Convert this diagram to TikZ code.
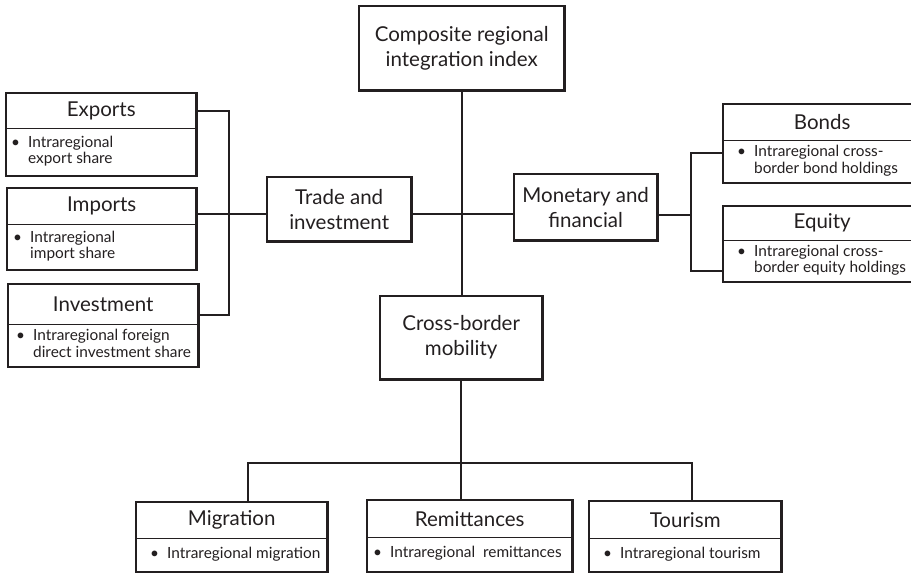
\documentclass[tikz,border=0pt]{standalone}
\usepackage{fontspec}
\setmainfont{Lato}
\definecolor{ink}{HTML}{231F20}
\tikzset{
  frame/.style={line width=2.2pt, draw=ink},
  conn/.style={line width=2pt, draw=ink, line cap=rect},
  divider/.style={line width=1pt, draw=ink},
  part/.style={anchor=north west, inner sep=0pt, text=ink},
  mainbox/.style={part, align=center, font=\fontsize{20.5}{25}\selectfont},
  headbox/.style={part, align=center, font=\fontsize{20.5}{24}\selectfont},
  bodytext/.style={anchor=west, inner sep=0pt, text=ink, align=left, font=\fontsize{15.4}{16.5}\selectfont},
}
\newcommand{\bul}[1]{\begin{tabular}{@{}l@{\hspace{8pt}}l@{}}•&#1\end{tabular}}
\begin{document}
\begin{tikzpicture}[x=1pt,y=-1pt]
\useasboundingbox (0,0) rectangle (911,573);
% main boxes
\node[mainbox, minimum width=205pt, minimum height=84pt] (top) at (359,6) {Composite regional\\integration index};
\node[mainbox, minimum width=144pt, minimum height=64pt] (trade) at (267,177) {Trade and\\investment};
\node[mainbox, minimum width=143pt, minimum height=66pt] (mon) at (514,174) {Monetary and\\financial};
\node[mainbox, minimum width=162pt, minimum height=83pt] (cb) at (380,296) {Cross-border\\mobility};
\foreach \n in {top,trade,mon,cb} \draw[frame] (\n.north west) rectangle (\n.south east);

% two-part boxes: name, x, y, width, head height, body height
\newcommand{\twobox}[6]{%
  \node[headbox, minimum width=#4pt, minimum height=#5pt] (#1T) at (#2,#3) {};
  \node[part, minimum width=#4pt, minimum height=#6pt] (#1B) at (#1T.south west) {};
  \draw[frame] (#1T.north west) rectangle (#1B.south east);
  \draw[divider] (#1T.south west) -- (#1T.south east);
}
\twobox{exp}{6}{93}{190}{35}{47}
\twobox{imp}{7}{188}{189}{36}{45}
\twobox{inv}{8}{284}{190}{40}{42}
\twobox{bond}{723}{104}{192}{36}{42}
\twobox{equ}{723}{206}{192}{34}{41}
\twobox{mig}{136}{502}{191}{36}{33}
\twobox{rem}{367}{500}{205}{37}{34}
\twobox{tou}{589}{501}{192}{37}{33}

% heads
\node[headbox, anchor=center] (expH) at (expT) {Exports};
\node[headbox, anchor=center] (impH) at (impT) {Imports};
\node[headbox, anchor=center] (invH) at (invT) {Investment};
\node[headbox, anchor=center] (bondH) at ([xshift=3pt]bondT) {Bonds};
\node[headbox, anchor=center] (equH) at ([xshift=3pt]equT) {Equity};
\node[headbox, anchor=center] (migH) at (migT) {Migration};
\node[headbox, anchor=center] (remH) at (remT) {Remittances};
\node[headbox, anchor=center] (touH) at (touT) {Tourism};

% bodies
\node[bodytext] (expX) at ([xshift=5pt]expB.west) {\bul{Intraregional\\&export share}};
\node[bodytext] (impX) at ([xshift=6pt]impB.west) {\bul{Intraregional\\&import share}};
\node[bodytext] (invX) at ([xshift=8pt]invB.west) {\bul{Intraregional foreign\\&direct investment share}};
\node[bodytext] (bondX) at ([xshift=14pt]bondB.west) {\bul{Intraregional cross-\\&border bond holdings}};
\node[bodytext] (equX) at ([xshift=14pt]equB.west) {\bul{Intraregional cross-\\&border equity holdings}};
\node[bodytext] (migX) at ([xshift=14pt]migB.west) {\bul{Intraregional migration}};
\node[bodytext] (remX) at ([xshift=6pt]remB.west) {\bul{Intraregional\ \ remittances}};
\node[bodytext] (touX) at ([xshift=14pt]touB.west) {\bul{Intraregional tourism}};

% connectors
\coordinate (hub) at (461,214);
\draw[conn] (top.south) -- (top.south |- cb.north);
\draw[conn] (trade.east |- hub) -- (mon.west |- hub);

\coordinate (lb1) at (229,111);
\coordinate (lb2) at (229,214);
\coordinate (lb3) at (229,315);
\draw[conn] (expT.east |- lb1) -- (lb1) -- (lb3) -- (invT.east |- lb3);
\draw[conn] (impT.east |- lb2) -- (trade.west |- lb2);

\coordinate (rb1) at (691,153);
\coordinate (rb2) at (691,215);
\coordinate (rb3) at (691,271);
\draw[conn] (bondB.west |- rb1) -- (rb1) -- (rb3) -- (equB.west |- rb3);
\draw[conn] (mon.east |- rb2) -- (rb2);

\coordinate (bb1) at (248,463);
\coordinate (bb3) at (692,463);
\draw[conn] (cb.south) -- (remT.north -| cb.south);
\draw[conn] (migT.north -| bb1) -- (bb1) -- (bb3) -- (touT.north -| bb3);
\end{tikzpicture}
\end{document}
